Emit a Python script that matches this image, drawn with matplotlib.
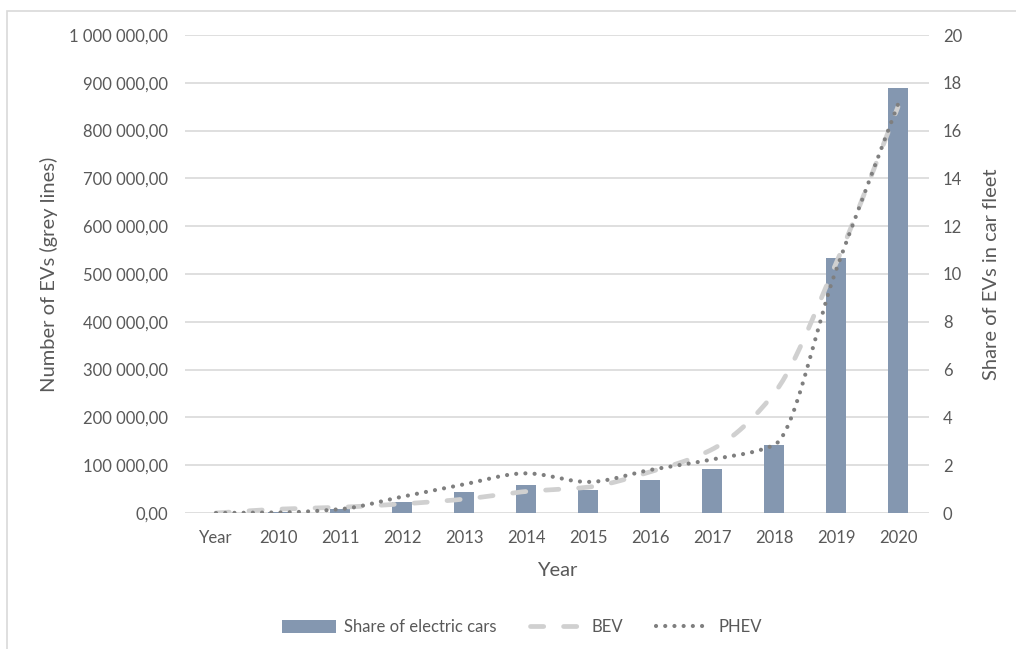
import matplotlib.pyplot as plt
import numpy as np
from matplotlib.lines import Line2D
from matplotlib.patches import Patch, Rectangle
from matplotlib.ticker import FuncFormatter

FONT = "Lato"
TEXT_GREY = "#595959"
GRID_GREY = "#d9d9d9"
BAR_BLUE = "#8497b0"
BEV_GREY = "#d0d0d0"
PHEV_GREY = "#7f7f7f"
TICK_SIZE = 12
LABEL_SIZE = 14.5

categories = ["Year", "2010", "2011", "2012", "2013", "2014", "2015",
              "2016", "2017", "2018", "2019", "2020"]
share_pct = [0.0, 0.04, 0.18, 0.47, 0.89, 1.19, 0.98, 1.37, 1.86, 2.86, 10.68, 17.77]
bev = [0, 8000, 12000, 19000, 29000, 45000, 54000, 86000, 133000, 250000, 522000, 850000]
phev = [0, 1000, 8000, 34000, 60000, 83000, 65000, 90000, 112000, 142000, 508000, 855000]

plt.rcParams["font.family"] = [FONT, "DejaVu Sans"]


def smooth(y, n=30):
    """Monotone cubic (Fritsch-Carlson) through evenly spaced points."""
    y = np.asarray(y, float)
    d = np.diff(y)
    m = np.zeros_like(y)
    m[0], m[-1] = d[0], d[-1]
    for i in range(1, len(y) - 1):
        if d[i - 1] * d[i] > 0:
            m[i] = 2 * d[i - 1] * d[i] / (d[i - 1] + d[i])
    t = np.linspace(0, 1, n)
    xs, ys = [], []
    for i in range(len(y) - 1):
        h00 = 2 * t ** 3 - 3 * t ** 2 + 1
        h10 = t ** 3 - 2 * t ** 2 + t
        h01 = -2 * t ** 3 + 3 * t ** 2
        h11 = t ** 3 - t ** 2
        xs.append(i + t)
        ys.append(h00 * y[i] + h10 * m[i] + h01 * y[i + 1] + h11 * m[i + 1])
    return np.concatenate(xs), np.concatenate(ys)


fig = plt.figure(figsize=(10.16, 6.49), dpi=100)
fig.patches.append(Rectangle((6.5 / 1016, -0.1), 1.2, (649 - 11) / 649 + 0.1,
                             transform=fig.transFigure, fill=False,
                             edgecolor=GRID_GREY, linewidth=1.2))

ax = fig.add_axes([185 / 1016, (649 - 513) / 649, 744 / 1016, 478 / 649])
ax2 = ax.twinx()

x = np.arange(len(categories))

# bars on the secondary axis, drawn behind the lines
ax2.bar(x, share_pct, width=0.32, color=BAR_BLUE, zorder=2)
ax2.set_ylim(0, 20)
ax2.set_yticks(np.arange(0, 21, 2))

ax.set_zorder(ax2.get_zorder() + 1)
ax.patch.set_visible(False)

bev_style = dict(color=BEV_GREY, linewidth=3.4, dashes=(2.8, 4.2), dash_capstyle="round")
phev_style = dict(color=PHEV_GREY, linewidth=3.0, dashes=(0.01, 2.2), dash_capstyle="round")

bx, by = smooth(bev)
ax.plot(bx, by, zorder=3, **bev_style)
hx, hy = smooth(phev)
ax.plot(hx, hy, zorder=4, **phev_style)

ax.set_xlim(-0.5, len(categories) - 0.5)
ax.set_ylim(0, 1_000_000)
ax.set_yticks(np.arange(0, 1_000_001, 100_000))
ax.yaxis.set_major_formatter(FuncFormatter(
    lambda v, _: f"{v:,.2f}".replace(",", " ").replace(".", ",")))
ax.set_xticks(x)
ax.set_xticklabels(categories)

for a in (ax, ax2):
    for side in ("top", "right", "left", "bottom"):
        a.spines[side].set_visible(False)
    a.tick_params(length=0, labelsize=TICK_SIZE, colors=TEXT_GREY)
ax.tick_params(axis="x", pad=12)
ax.tick_params(axis="y", pad=12)
ax2.tick_params(axis="y", pad=10)

for v in np.arange(0, 21, 2):
    ax2.axhline(v, color=GRID_GREY, linewidth=1.2, zorder=0)

ax.set_xlabel("Year", fontsize=LABEL_SIZE, color=TEXT_GREY, labelpad=12)
ax.set_ylabel("Number of EVs (grey lines)", fontsize=LABEL_SIZE, color=TEXT_GREY, labelpad=8)
ax2.set_ylabel("Share of EVs in car fleet", fontsize=LABEL_SIZE, color=TEXT_GREY, labelpad=15)

handles = [
    Patch(facecolor=BAR_BLUE, label="Share of electric cars"),
    Line2D([0], [0], label="BEV", **bev_style),
    Line2D([0], [0], label="PHEV", **phev_style),
]
fig.legend(handles=handles, loc="center", bbox_to_anchor=(522 / 1016, 1 - 627 / 649),
           ncol=3, frameon=False, fontsize=TICK_SIZE, labelcolor=TEXT_GREY,
           handlelength=3.2, handleheight=0.8, columnspacing=2.0, handletextpad=0.5)

fig.savefig("out.png", dpi=100)
